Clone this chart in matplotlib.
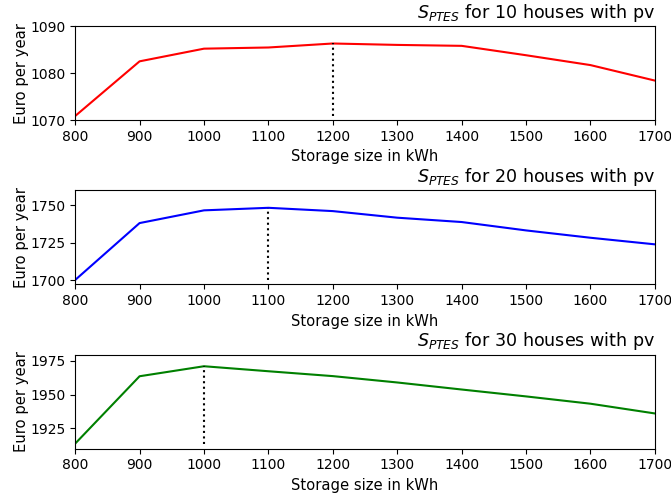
import matplotlib
matplotlib.use('Agg')
import matplotlib.pyplot as plt

sizes = [800, 900, 1000, 1100, 1200, 1300, 1400, 1500, 1600, 1700]
houses = [10, 20, 30]
colors = ['red', 'blue', 'green']

s10 = [1070.85, 1082.5, 1085.2, 1085.45, 1086.3, 1086.0, 1085.8, 1083.8, 1081.7, 1078.4]
s20 = [1700.2, 1738.2, 1746.7, 1748.4, 1746.2, 1741.8, 1738.9, 1733.3, 1728.4, 1724.0]
s30 = [1913.7, 1963.5, 1970.9, 1967.2, 1963.6, 1958.9, 1953.7, 1948.6, 1943.2, 1936.0]
series = [s10, s20, s30]

ylims = [(1070, 1090), (1697.3, 1760), (1910, 1979.4)]
yticks = [[1070, 1080, 1090], [1700, 1725, 1750], [1925, 1950, 1975]]

fig, axes = plt.subplots(3, 1, figsize=(6.71, 4.93), dpi=100)
fig.subplots_adjust(left=0.112, right=0.976, top=0.947, bottom=0.09, hspace=0.75)

for ax, n, c, y, yl, yt in zip(axes, houses, colors, series, ylims, yticks):
    ax.plot(sizes, y, color=c)
    best = y.index(max(y))
    ax.vlines(sizes[best], min(y), max(y), colors='black', linestyles=':')
    ax.set_xlim(800, 1700)
    ax.set_ylim(*yl)
    ax.set_yticks(yt)
    ax.set_xticks(sizes)
    ax.set_xlabel('Storage size in kWh', fontsize=10.6)
    ax.set_ylabel('Euro per year', fontsize=10.6, labelpad=1)
    ax.set_title('$S_{PTES}$ for %d houses with pv' % n, loc='right', fontsize=12.6)

plt.savefig('out.png', dpi=100)
